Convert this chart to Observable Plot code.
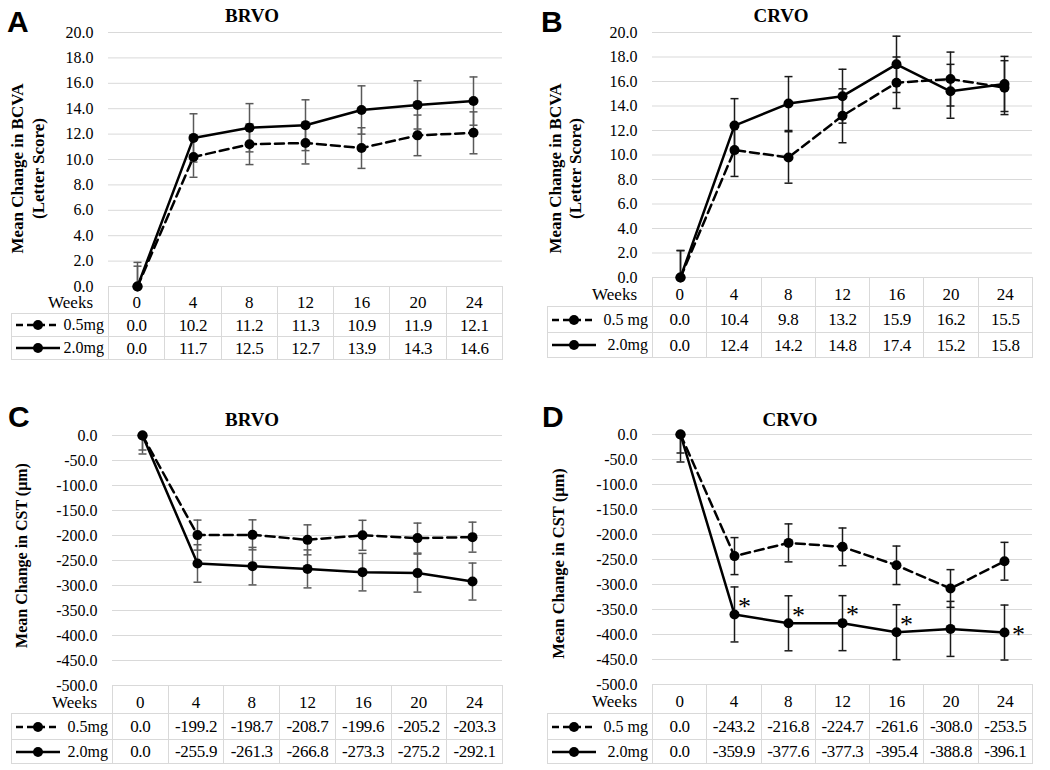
<!DOCTYPE html>
<html><head><meta charset="utf-8">
<script src="https://cdn.jsdelivr.net/npm/d3@7"></script>
<script src="https://cdn.jsdelivr.net/npm/@observablehq/plot@0.6"></script>
<style>
body{margin:0;background:#fff;}
#root{position:relative;width:1050px;height:770px;overflow:hidden;font-family:"Liberation Serif","Times New Roman",serif;color:#000;}
.letter{position:absolute;font-family:"Liberation Sans",Arial,sans-serif;font-weight:bold;font-size:30px;line-height:1;color:#000;}
.title{position:absolute;width:200px;text-align:center;font-family:"Liberation Serif","Times New Roman",serif;font-weight:bold;font-size:19px;line-height:1;color:#000;}
table.dt{position:absolute;border-collapse:collapse;table-layout:fixed;font-family:"Liberation Serif","Times New Roman",serif;font-size:16px;line-height:1;color:#000;}
table.dt td{border:1px solid #d9d9d9;padding:0;text-align:center;vertical-align:middle;white-space:nowrap;}
table.dt td.num{font-size:17px;letter-spacing:-0.3px;}
table.dt td.hd{padding-top:5px;font-size:17px;}
table.dt td.nob{border:none;text-align:right;padding:6px 15px 0 0;font-size:17px;}
.lg{display:flex;align-items:center;justify-content:space-between;padding:0 4px 0 4px;font-size:16px;}
</style></head>
<body><div id="root"></div>
<script>
// ---- data ----
const weeks = [0, 4, 8, 12, 16, 20, 24];
const weekLabels = ["0", "4", "8", "12", "16", "20", "24"];
const bcvaTicks = [0, 2, 4, 6, 8, 10, 12, 14, 16, 18, 20];
const cstTicks = [0, -50, -100, -150, -200, -250, -300, -350, -400, -450, -500];

const brvoBcva05 = [0.0, 10.2, 11.2, 11.3, 10.9, 11.9, 12.1];
const brvoBcva20 = [0.0, 11.7, 12.5, 12.7, 13.9, 14.3, 14.6];
const brvoBcva05Err = [1.6, 1.6, 1.6, 1.65, 1.6, 1.6, 1.65];
const brvoBcva20Err = [1.9, 1.9, 1.9, 2.0, 1.9, 1.9, 1.9];

const crvoBcva05 = [0.0, 10.4, 9.8, 13.2, 15.9, 16.2, 15.5];
const crvoBcva20 = [0.0, 12.4, 14.2, 14.8, 17.4, 15.2, 15.8];
const crvoBcva05Err = [2.2, 2.15, 2.1, 2.2, 2.1, 2.2, 2.2];
const crvoBcva20Err = [2.2, 2.2, 2.2, 2.2, 2.3, 2.2, 2.25];

const brvoCst05 = [0.0, -199.2, -198.7, -208.7, -199.6, -205.2, -203.3];
const brvoCst20 = [0.0, -255.9, -261.3, -266.8, -273.3, -275.2, -292.1];
const brvoCst05Err = [29, 30, 30, 30, 30, 30, 30];
const brvoCst20Err = [37, 37.5, 37.5, 38, 37.5, 38, 37];

const crvoCst05 = [0.0, -243.2, -216.8, -224.7, -261.6, -308.0, -253.5];
const crvoCst20 = [0.0, -359.9, -377.6, -377.3, -395.4, -388.8, -396.1];
const crvoCst05Err = [37, 37, 38, 37.7, 38.5, 37.7, 37.8];
const crvoCst20Err = [55, 55, 55, 55, 55, 55, 55];
const crvoCstSig = [false, true, true, true, true, false, true];

const root = document.getElementById("root");
const SERIF = '"Liberation Serif", "Times New Roman", serif';

const capSymbol = {draw(ctx) { ctx.moveTo(-4, 0); ctx.lineTo(4, 0); }};

function drawPanel(p) {
  const s05 = weeks.map((w, i) => ({week: w, value: p.v05[i], err: p.e05[i]}));
  const s20 = weeks.map((w, i) => ({week: w, value: p.v20[i], err: p.e20[i], sig: p.sig ? p.sig[i] : false, idx: i}));
  const all = s05.concat(s20);
  const marks = [
    Plot.gridY(p.ticks, {stroke: "#d9d9d9", strokeOpacity: 1, strokeWidth: 1}),
    Plot.axisY(p.ticks, {tickSize: 0, tickPadding: 15, tickFormat: d => d.toFixed(1), label: null, fontSize: 16}),
    Plot.text([p.ylabel], {frameAnchor: "left", text: d => d, rotate: -90, dx: p.ldx, dy: p.ldy,
      lineHeight: 1.2, fontSize: p.lfs, fontWeight: "bold", textAnchor: "middle", lineAnchor: "middle"}),
    Plot.ruleX(all, {x: "week", y1: d => d.value - d.err, y2: d => d.value + d.err, stroke: p.errColor, strokeWidth: 1.5, clip: true}),
    Plot.dot(all, {x: "week", y: d => d.value + d.err, symbol: capSymbol, r: 4, stroke: p.errColor, strokeWidth: 1.5, fill: "none", clip: true}),
    Plot.dot(all, {x: "week", y: d => d.value - d.err, symbol: capSymbol, r: 4, stroke: p.errColor, strokeWidth: 1.5, fill: "none", clip: true}),
    Plot.line(s05, {x: "week", y: "value", stroke: "#000", strokeWidth: 2.5, strokeDasharray: "9,5"}),
    Plot.line(s20, {x: "week", y: "value", stroke: "#000", strokeWidth: 2.5}),
    Plot.dot(all, {x: "week", y: "value", r: 5, fill: "#000", stroke: "none"})
  ];
  if (p.sig) {
    marks.push(Plot.text(s20.filter(d => d.sig && d.idx < 6), {x: "week", y: "value", text: () => "*", dx: 10, dy: -8, fontSize: 26}));
    marks.push(Plot.text(s20.filter(d => d.sig && d.idx === 6), {x: "week", y: "value", text: () => "*", dx: 14, dy: 2, fontSize: 26}));
  }
  const svg = Plot.plot({
    width: p.width, height: p.height,
    marginTop: p.m[0], marginBottom: p.m[1], marginLeft: p.m[2], marginRight: p.m[3],
    x: {type: "point", domain: weeks, padding: 0.5, axis: null},
    y: {domain: p.domain},
    style: {fontFamily: SERIF, fontSize: "16px", overflow: "visible",
      position: "absolute", left: p.left + "px", top: p.top + "px", background: "transparent", color: "#000"},
    marks
  });
  return svg;
}

function glyph(dashed) {
  const ns = "http://www.w3.org/2000/svg";
  const s = document.createElementNS(ns, "svg");
  s.setAttribute("width", 44); s.setAttribute("height", 12);
  const l = document.createElementNS(ns, "line");
  l.setAttribute("x1", 0); l.setAttribute("x2", 44); l.setAttribute("y1", 6); l.setAttribute("y2", 6);
  l.setAttribute("stroke", "#000"); l.setAttribute("stroke-width", 2.5);
  if (dashed) l.setAttribute("stroke-dasharray", "7,4");
  const c = document.createElementNS(ns, "circle");
  c.setAttribute("cx", 22); c.setAttribute("cy", 6); c.setAttribute("r", 5); c.setAttribute("fill", "#000");
  s.appendChild(l); s.appendChild(c);
  return s;
}

function makeTable(t) {
  const tb = document.createElement("table");
  tb.className = "dt";
  tb.style.left = t.left + "px";
  tb.style.top = t.top + "px";
  tb.style.width = (t.plotRight - t.left) + "px";
  const colW = (t.plotRight - t.plotLeft) / 7;
  const cg = document.createElement("colgroup");
  const c0 = document.createElement("col"); c0.style.width = (t.plotLeft - t.left) + "px"; cg.appendChild(c0);
  weeks.forEach(() => { const c = document.createElement("col"); c.style.width = colW + "px"; cg.appendChild(c); });
  tb.appendChild(cg);
  const hr = document.createElement("tr"); hr.style.height = t.rows[0] + "px";
  const h0 = document.createElement("td"); h0.className = "nob"; h0.textContent = "Weeks"; hr.appendChild(h0);
  weekLabels.forEach(w => { const td = document.createElement("td"); td.className = "hd"; td.textContent = w; hr.appendChild(td); });
  tb.appendChild(hr);
  [[t.l05, t.v05, true], ["2.0mg", t.v20, false]].forEach(([lab, vals, dashed], r) => {
    const tr = document.createElement("tr"); tr.style.height = t.rows[r + 1] + "px";
    const td0 = document.createElement("td");
    const d = document.createElement("div"); d.className = "lg";
    d.appendChild(glyph(dashed));
    const sp = document.createElement("span"); sp.textContent = lab; d.appendChild(sp);
    td0.appendChild(d); tr.appendChild(td0);
    vals.forEach(v => {
      const td = document.createElement("td"); td.className = "num";
      td.textContent = v.toFixed(1);
      tr.appendChild(td);
    });
    tb.appendChild(tr);
  });
  root.appendChild(tb);
}

function addText(cls, txt, left, top) {
  const d = document.createElement("div"); d.className = cls; d.textContent = txt;
  d.style.left = left + "px"; d.style.top = top + "px"; root.appendChild(d);
}

// tables first (under the charts)
makeTable({left: 11, top: 286, plotLeft: 108, plotRight: 502, rows: [27, 23, 23], l05: "0.5mg", v05: brvoBcva05, v20: brvoBcva20});
makeTable({left: 547, top: 277, plotLeft: 652, plotRight: 1032, rows: [29, 26, 25], l05: "0.5 mg", v05: crvoBcva05, v20: crvoBcva20});
makeTable({left: 11, top: 685, plotLeft: 112, plotRight: 502, rows: [28, 26, 24], l05: "0.5mg", v05: brvoCst05, v20: brvoCst20});
makeTable({left: 547, top: 684, plotLeft: 652, plotRight: 1032, rows: [29, 26, 24], l05: "0.5 mg", v05: crvoCst05, v20: crvoCst20});

root.appendChild(drawPanel({left: 0, top: 0, width: 520, height: 300, m: [32, 14, 108, 18], domain: [0, 20], ticks: bcvaTicks,
  v05: brvoBcva05, v20: brvoBcva20, e05: brvoBcva05Err, e20: brvoBcva20Err, errColor: "#595959",
  ylabel: "Mean Change in BCVA\n(Letter Score)", ldx: -81.5, ldy: 9, lfs: 17}));
root.appendChild(drawPanel({left: 520, top: 0, width: 530, height: 300, m: [32, 23, 132, 18], domain: [0, 20], ticks: bcvaTicks,
  v05: crvoBcva05, v20: crvoBcva20, e05: crvoBcva05Err, e20: crvoBcva20Err, errColor: "#1a1a1a",
  ylabel: "Mean Change in BCVA\n(Letter Score)", ldx: -88, ldy: 13.5, lfs: 17}));
root.appendChild(drawPanel({left: 0, top: 400, width: 520, height: 300, m: [35, 15, 112, 18], domain: [-500, 0], ticks: cstTicks,
  v05: brvoCst05, v20: brvoCst20, e05: brvoCst05Err, e20: brvoCst20Err, errColor: "#595959",
  ylabel: "Mean Change in CST (μm)", ldx: -92, ldy: -5, lfs: 16}));
root.appendChild(drawPanel({left: 520, top: 400, width: 530, height: 300, m: [34, 16, 132, 18], domain: [-500, 0], ticks: cstTicks,
  v05: crvoCst05, v20: crvoCst20, e05: crvoCst05Err, e20: crvoCst20Err, errColor: "#1a1a1a", sig: crvoCstSig,
  ylabel: "Mean Change in CST (μm)", ldx: -95, ldy: 4, lfs: 16.5}));

// panel letters and titles
addText("letter", "A", 7, 6.6);
addText("letter", "B", 541, 6.6);
addText("letter", "C", 8, 401.6);
addText("letter", "D", 542, 401.6);
addText("title", "BRVO", 152, 6);
addText("title", "CRVO", 681, 6);
addText("title", "BRVO", 152, 410);
addText("title", "CRVO", 690, 410);
</script>
</body></html>
